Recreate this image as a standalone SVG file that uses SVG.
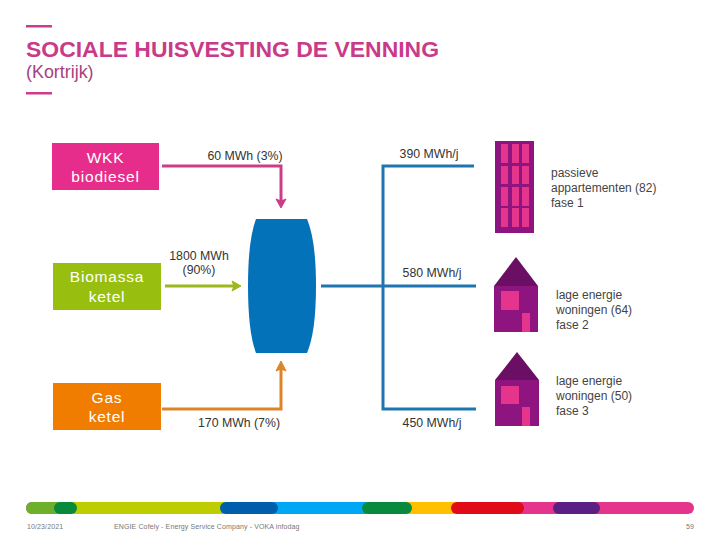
<svg xmlns="http://www.w3.org/2000/svg" width="720" height="540" viewBox="0 0 720 540">
<style>
text{font-family:"Liberation Sans",Arial,sans-serif}
.t{font-size:12.3px;fill:#333;text-anchor:middle}
.l{font-size:12px;fill:#444}
.b{font-size:15.5px;fill:#fff;text-anchor:middle;letter-spacing:.8px}
.f{font-size:7px;fill:#777;letter-spacing:.12px}
.c{fill:none;stroke-width:3}
</style>
<rect width="720" height="540" fill="#fff"/>
<g id="title">
<rect x="26" y="25" width="26" height="2.500" fill="#cc3c8c"/>
<text x="26" y="57" font-size="22.900" font-weight="bold" fill="#c93a88" textLength="413" lengthAdjust="spacingAndGlyphs">SOCIALE HUISVESTING DE VENNING</text>
<text x="26" y="78" font-size="17.900" fill="#a8417f">(Kortrijk)</text>
<rect x="26" y="92" width="26" height="2.500" fill="#cc3c8c"/>
</g>
<g id="connectors">
<path class="c" stroke="#cc3c88" d="M162 166H281V202"/>
<path d="M276 199L281 208L286 199L281 201Z" fill="#cc3c88" stroke="#cc3c88"/>
<path class="c" stroke="#9cb81c" d="M165 286H236"/>
<path d="M232 281L241 286L232 291L234 286Z" fill="#9cb81c" stroke="#9cb81c"/>
<path class="c" stroke="#dc8428" d="M162 409H281V368"/>
<path d="M276 371L281 361L286 371L281 369Z" fill="#dc8428" stroke="#dc8428"/>
<path class="c" stroke="#1f75b0" d="M474 166H383V409H476M321 286H476"/>
</g>
<g id="wkk"><rect x="52" y="143" width="107" height="47" fill="#e62d8b"/>
<text class="b" x="105.500" y="163">WKK</text><text class="b" x="105.500" y="182">biodiesel</text></g>
<g id="biomassa"><rect x="53" y="263" width="108" height="47" fill="#98bf10"/>
<text class="b" x="107" y="282">Biomassa</text><text class="b" x="107" y="302">ketel</text></g>
<g id="gas"><rect x="53" y="383" width="108" height="47" fill="#f07d00"/>
<text class="b" x="107" y="403">Gas</text><text class="b" x="107" y="422">ketel</text></g>
<g id="buffer"><path d="M256 219H307Q316 240 316 286Q316 332 307 353H256Q248 332 248 286Q248 240 256 219Z" fill="#0472b9"/></g>
<g id="labels">
<text class="t" x="245" y="160">60 MWh (3%)</text>
<text class="t" x="199" y="260">1800 MWh</text><text class="t" x="199" y="274">(90%)</text>
<text class="t" x="239" y="427">170 MWh (7%)</text>
<text class="t" x="429" y="158">390 MWh/j</text>
<text class="t" x="432" y="277">580 MWh/j</text>
<text class="t" x="432" y="427">450 MWh/j</text>
</g>
<g id="apartments">
<rect x="495" y="141" width="39" height="92" fill="#8e1580"/>
<g fill="#e5348c"><rect x="501" y="144" width="7" height="19"/><rect x="512" y="144" width="7" height="19"/><rect x="522" y="144" width="7" height="19"/>
<rect x="501" y="166" width="7" height="18"/><rect x="512" y="166" width="7" height="18"/><rect x="522" y="166" width="7" height="18"/>
<rect x="501" y="187" width="7" height="19"/><rect x="512" y="187" width="7" height="19"/><rect x="522" y="187" width="7" height="19"/>
<rect x="501" y="208" width="7" height="19"/><rect x="512" y="208" width="7" height="19"/><rect x="522" y="208" width="7" height="19"/></g>
<text class="l" x="551" y="177">passieve</text><text class="l" x="551" y="192">appartementen (82)</text><text class="l" x="551" y="207">fase 1</text>
</g>
<g id="house2">
<path d="M494 286L516 257L538 286Z" fill="#6a0f63"/><rect x="494" y="286" width="44" height="46" fill="#8e1580"/>
<rect x="501" y="291" width="18" height="19" fill="#e5348c"/><rect x="522" y="313" width="8" height="19" fill="#e5348c"/>
<text class="l" x="556" y="299">lage energie</text><text class="l" x="556" y="314">woningen (64)</text><text class="l" x="556" y="329">fase 2</text>
</g>
<g id="house3">
<path d="M495 380L517 352L539 380Z" fill="#6a0f63"/><rect x="495" y="380" width="44" height="46" fill="#8e1580"/>
<rect x="501" y="386" width="18" height="18" fill="#e5348c"/><rect x="522" y="407" width="8" height="19" fill="#e5348c"/>
<text class="l" x="556" y="385">lage energie</text><text class="l" x="556" y="400">woningen (50)</text><text class="l" x="556" y="415">fase 3</text>
</g>
<g id="footer">
<rect x="26" y="502" width="668" height="12" rx="6" fill="#e5348c"/>
<path d="M32 502H70V514H32A6 6 0 0 1 32 502Z" fill="#6eb02c"/>
<rect x="70" y="502" width="155" height="12" fill="#bdcd00"/>
<rect x="54" y="502" width="23" height="12" rx="6" fill="#078a3c"/>
<rect x="270" y="502" width="100" height="12" fill="#00a7f5"/>
<rect x="220" y="502" width="58" height="12" rx="6" fill="#005eaa"/>
<rect x="400" y="502" width="60" height="12" fill="#ffc000"/>
<rect x="362" y="502" width="50" height="12" rx="6" fill="#078a3c"/>
<rect x="451" y="502" width="73" height="12" rx="6" fill="#e10a17"/>
<rect x="553" y="502" width="47" height="12" rx="6" fill="#5a2084"/>
<text class="f" x="27" y="529">10/23/2021</text>
<text class="f" x="114" y="529">ENGIE Cofely - Energy Service Company - VOKA infodag</text>
<text class="f" x="694" y="529" text-anchor="end">59</text>
</g>
</svg>
